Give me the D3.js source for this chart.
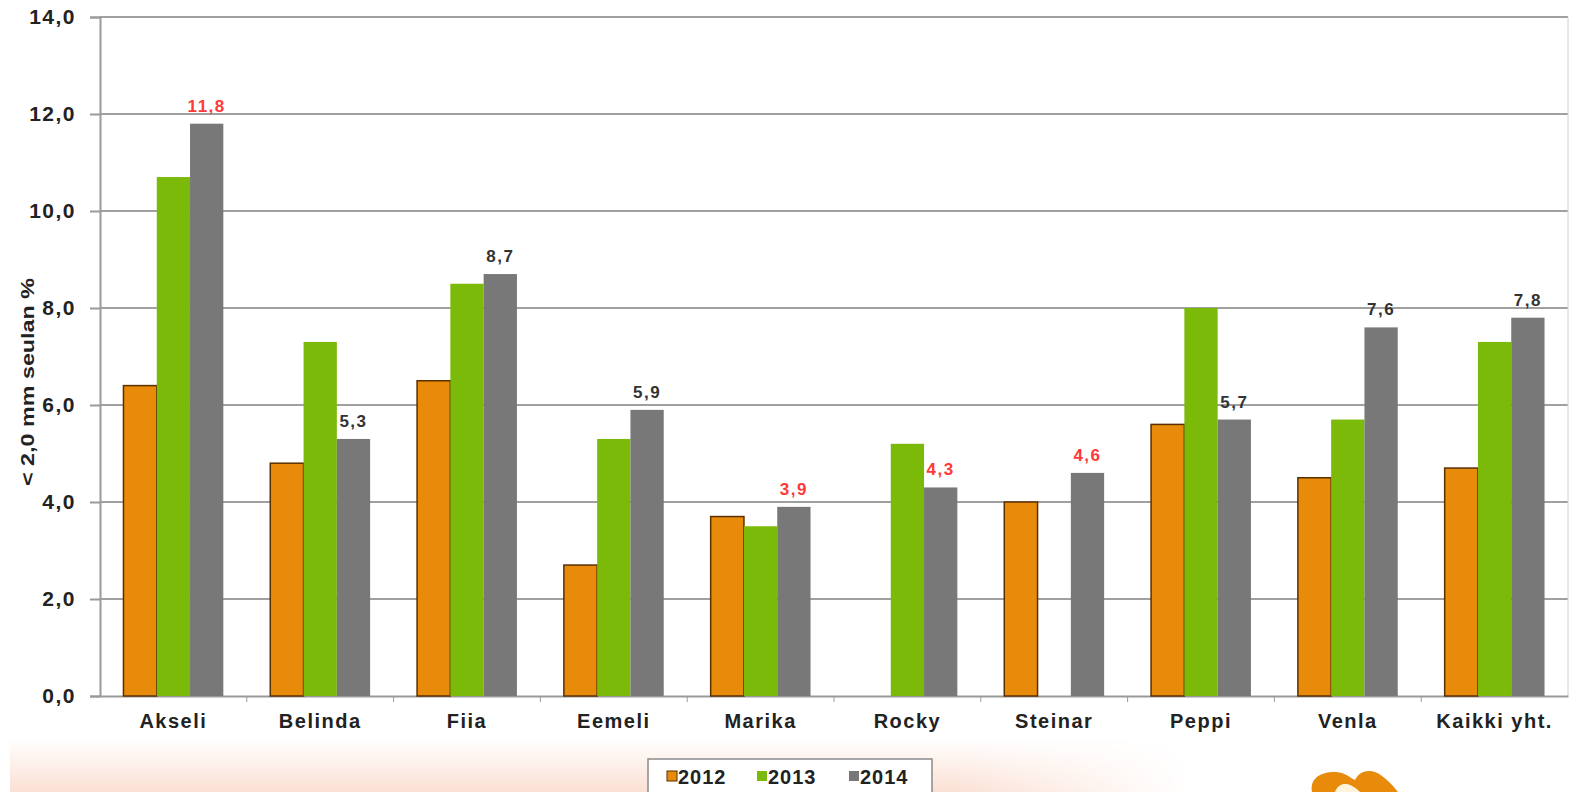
<!DOCTYPE html>
<html lang="fi">
<head>
<meta charset="UTF-8">
<title>&lt; 2,0 mm seulan %</title>
<style>
    body { margin: 0; background: #fff; font-family: "Liberation Sans", Arial, sans-serif; }
    svg { display: block; }
    .tick text { font-weight: bold; fill: #222; }
</style>
</head>
<body>
<div id="chart"></div>
<script src="https://d3js.org/d3.v7.min.js"></script>
<script>
// Tiedot
const categories = ["Akseli", "Belinda", "Fiia", "Eemeli", "Marika", "Rocky", "Steinar", "Peppi", "Venla", "Kaikki yht."];
const years = ["2012", "2013", "2014"];
const values2012 = [6.4, 4.8, 6.5, 2.7, 3.7, null, 4.0, 5.6, 4.5, 4.7];
const values2013 = [10.7, 7.3, 8.5, 5.3, 3.5, 5.2, null, 8.0, 5.7, 7.3];
const values2014 = [11.8, 5.3, 8.7, 5.9, 3.9, 4.3, 4.6, 5.7, 7.6, 7.8];
const redLabels = ["Akseli", "Marika", "Rocky", "Steinar"];
const yTicks = [0, 2, 4, 6, 8, 10, 12, 14];

const series = [values2012, values2013, values2014];
const colors = ["#e88a0a", "#7cba0a", "#787878"];

const width = 1569, height = 792;
const plotLeft = 100, plotRight = 1568, plotTop = 17, plotBottom = 696;

const svg = d3.select("#chart").append("svg")
    .attr("width", width).attr("height", height);

// Taustan persikanvärinen liukuväri alareunassa
const defs = svg.append("defs");
const gv = defs.append("linearGradient").attr("id", "bgv").attr("x1", 0).attr("y1", 0).attr("x2", 0).attr("y2", 1);
gv.append("stop").attr("offset", 0).attr("stop-color", "#fff");
gv.append("stop").attr("offset", 1).attr("stop-color", "#fbe0d4");
const gh = defs.append("linearGradient").attr("id", "bgh").attr("x1", 0).attr("y1", 0).attr("x2", 1).attr("y2", 0);
gh.append("stop").attr("offset", 0).attr("stop-color", "#fff").attr("stop-opacity", 1);
gh.append("stop").attr("offset", 0.8).attr("stop-color", "#fff").attr("stop-opacity", 1);
gh.append("stop").attr("offset", 1).attr("stop-color", "#fff").attr("stop-opacity", 0);
const mask = defs.append("mask").attr("id", "bgmask");
mask.append("rect").attr("x", 10).attr("y", 738).attr("width", 1180).attr("height", 54).attr("fill", "url(#bgh)");
svg.append("rect")
    .attr("x", 10).attr("y", 738).attr("width", 1180).attr("height", 54)
    .attr("fill", "url(#bgv)").attr("mask", "url(#bgmask)");

// Asteikot
const x = d3.scaleBand().domain(categories).range([plotLeft, plotRight]).paddingInner(0).paddingOuter(0);
const x1 = d3.scaleBand().domain(years).range([0, x.bandwidth()]).paddingInner(0).paddingOuter(0.705);
const y = d3.scaleLinear().domain([0, 14]).range([plotBottom, plotTop]);

// Ruudukko
svg.append("g").selectAll("line").data(yTicks.filter(d => d > 0)).enter().append("line")
    .attr("x1", plotLeft).attr("x2", plotRight)
    .attr("y1", d => y(d)).attr("y2", d => y(d))
    .attr("stroke", "#a0a0a0").attr("stroke-width", 2);
svg.append("line").attr("x1", plotRight).attr("x2", plotRight).attr("y1", plotTop).attr("y2", plotBottom)
    .attr("stroke", "#d0d0d0").attr("stroke-width", 1);

// Y-akseli
const yAxis = svg.append("g").attr("transform", `translate(${plotLeft},0)`)
    .call(d3.axisLeft(y).tickValues(yTicks).tickSize(10).tickPadding(14)
        .tickFormat(d => d3.format(".1f")(d).replace(".", ",")));
yAxis.selectAll("text").style("font-size", "21px").style("letter-spacing", "1.5px");
yAxis.selectAll("line, path").attr("stroke", "#9a9a9a").attr("stroke-width", 2);

// X-akseli
const xAxis = svg.append("g").attr("transform", `translate(0,${plotBottom})`)
    .call(d3.axisBottom(x).tickSize(0).tickPadding(18));
xAxis.selectAll("text").style("font-size", "20px").style("letter-spacing", "1.5px");
xAxis.select("path").attr("stroke", "#9a9a9a").attr("stroke-width", 2);
xAxis.selectAll(".sep").data(categories.slice(1)).enter().append("line")
    .attr("class", "sep")
    .attr("x1", d => x(d)).attr("x2", d => x(d))
    .attr("y1", 0).attr("y2", 6)
    .attr("stroke", "#9a9a9a").attr("stroke-width", 1);

// Pylväät
const groups = svg.append("g").selectAll("g").data(categories).enter().append("g")
    .attr("transform", d => `translate(${x(d)},0)`);

groups.selectAll("rect")
    .data((c, i) => years.map((yr, s) => ({ yr, s, v: series[s][i] })).filter(d => d.v !== null))
    .enter().append("rect")
    .attr("x", d => x1(d.yr))
    .attr("width", x1.bandwidth())
    .attr("y", d => y(d.v))
    .attr("height", d => y(0) - y(d.v))
    .attr("fill", d => colors[d.s])
    .attr("stroke", d => d.s === 0 ? "#5a3000" : "none")
    .attr("stroke-width", 1.5);

// Arvotunnisteet 2014
groups.append("text")
    .attr("x", x1("2014") + x1.bandwidth() / 2)
    .attr("y", (c, i) => y(values2014[i]) - 12)
    .attr("text-anchor", "middle")
    .style("font-size", "17px").style("font-weight", "bold").style("letter-spacing", "1.5px")
    .attr("fill", c => redLabels.includes(c) ? "#ff3838" : "#333")
    .text((c, i) => d3.format(".1f")(values2014[i]).replace(".", ","));

// Y-akselin otsikko
svg.append("text")
    .attr("transform", "translate(34,382) rotate(-90)")
    .attr("text-anchor", "middle")
    .attr("textLength", 208).attr("lengthAdjust", "spacingAndGlyphs")
    .style("font-size", "19px").style("font-weight", "bold").attr("fill", "#222")
    .text("< 2,0 mm seulan %");

// Selite
const legend = svg.append("g");
legend.append("rect").attr("x", 648).attr("y", 759).attr("width", 284).attr("height", 40)
    .attr("fill", "#fff").attr("stroke", "#8a8a8a").attr("stroke-width", 1.5);
const legX = [667, 757, 849];
years.forEach((yr, i) => {
    legend.append("rect").attr("x", legX[i]).attr("y", 771).attr("width", 10).attr("height", 10)
        .attr("fill", colors[i]).attr("stroke", i === 0 ? "#5a3000" : "none");
    legend.append("text").attr("x", legX[i] + 11).attr("y", 784)
        .style("font-size", "20px").style("font-weight", "bold").style("letter-spacing", "1px").attr("fill", "#222")
        .text(yr);
});

// Logo oikeassa alakulmassa
svg.append("path")
    .attr("d", "M1312,792 C1310,780 1318,772 1335,772 C1345,772 1350,778 1355,780 C1360,770 1372,768 1382,776 C1390,782 1395,788 1398,792 Z")
    .attr("fill", "#e88a0a");
svg.append("path")
    .attr("d", "M1335,792 C1338,784 1345,782 1352,786 C1356,788 1358,790 1360,792 Z")
    .attr("fill", "#fff3dc");
</script>
</body>
</html>
